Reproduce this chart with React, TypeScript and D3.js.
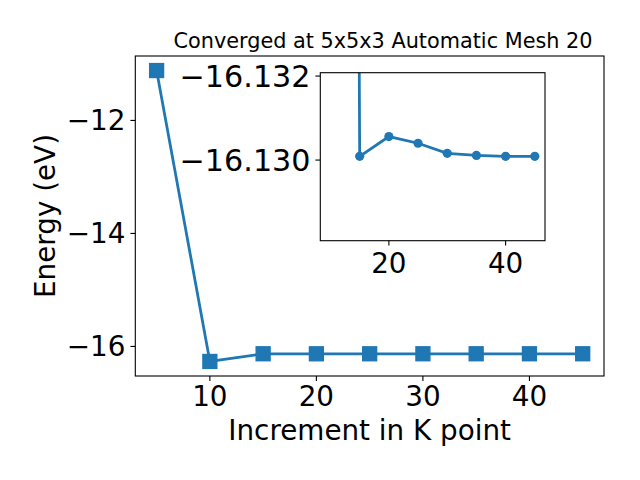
import React from "react";
import * as d3 from "d3";

const kpoints = [5, 10, 15, 20, 25, 30, 35, 40, 45];
const energies = [-11.117, -16.266, -16.13009, -16.13056, -16.1304, -16.13016, -16.13011, -16.13009, -16.13009];
const mainXTicks = [10, 20, 30, 40];
const mainYTicks = [-16, -14, -12];
const insetXTicks = [20, 40];
const insetYTicks = [-16.132, -16.13];
const insetYLim = [-16.12808, -16.13208];
const titleText = "Converged at 5x5x3 Automatic Mesh 20";
const xLabel = "Increment in K point";
const yLabel = "Energy (eV)";

const COLOR = "#1f77b4";
const FONT = "DejaVu Sans";
const fmtMinus = (s: string) => s.replace("-", "\u2212");

export default function App() {
  const main = { l: 135.3, r: 604, t: 56, b: 376 };
  const inset = { l: 320.3, r: 545, t: 72.7, b: 240.7 };

  const xMin = d3.min(kpoints)!, xMax = d3.max(kpoints)!;
  const xm = (xMax - xMin) * 0.05;
  const yMin = d3.min(energies)!, yMax = d3.max(energies)!;
  const ym = (yMax - yMin) * 0.05;
  const x = d3.scaleLinear().domain([xMin - xm, xMax + xm]).range([main.l, main.r]);
  const y = d3.scaleLinear().domain([yMin - ym, yMax + ym]).range([main.b, main.t]);

  const ik = kpoints.slice(1);
  const ie = energies.slice(1);
  const ixMin = d3.min(ik)!, ixMax = d3.max(ik)!;
  const ixm = (ixMax - ixMin) * 0.05;
  const ix = d3.scaleLinear().domain([ixMin - ixm, ixMax + ixm]).range([inset.l, inset.r]);
  const iy = d3.scaleLinear().domain(insetYLim).range([inset.b, inset.t]);

  const line = d3.line<number>().x((_, i) => x(kpoints[i])).y((d) => y(d));
  const iline = d3.line<number>().x((_, i) => ix(ik[i])).y((d) => iy(d));
  const ms = 13.9;
  const tl = 4.9;
  const lw = 2.78;

  return (
    <svg width={640} height={480} style={{ position: "absolute", left: 0, top: 0, background: "#fff" }} fontFamily={FONT}>
      <rect x={0} y={0} width={640} height={480} fill="#fff" />
      <defs>
        <clipPath id="insetclip">
          <rect x={inset.l} y={inset.t} width={inset.r - inset.l} height={inset.b - inset.t} />
        </clipPath>
      </defs>
      <g>
        <path d={line(energies)!} fill="none" stroke={COLOR} strokeWidth={lw} />
        {energies.map((e, i) => (
          <rect key={i} x={x(kpoints[i]) - ms / 2} y={y(e) - ms / 2} width={ms} height={ms} fill={COLOR} stroke={COLOR} strokeWidth={1.39} />
        ))}
        <rect x={main.l} y={main.t} width={main.r - main.l} height={main.b - main.t} fill="none" stroke="#000" strokeWidth={1.1} />
        {mainXTicks.map((t) => (
          <g key={t}>
            <line x1={x(t)} x2={x(t)} y1={main.b} y2={main.b + tl} stroke="#000" strokeWidth={1.1} />
            <text x={x(t)} y={406} fontSize={27.8} textAnchor="middle">{t}</text>
          </g>
        ))}
        {mainYTicks.map((t) => (
          <g key={t}>
            <line x1={main.l - tl} x2={main.l} y1={y(t)} y2={y(t)} stroke="#000" strokeWidth={1.1} />
            <text x={main.l - tl - 4.9} y={y(t)} dy="0.36em" fontSize={27.8} textAnchor="end">{fmtMinus(String(t))}</text>
          </g>
        ))}
        <text x={(main.l + main.r) / 2} y={440} fontSize={27.8} textAnchor="middle">{xLabel}</text>
        <text transform={`translate(55,${(main.t + main.b) / 2}) rotate(-90)`} fontSize={27.8} textAnchor="middle">{yLabel}</text>
        <text x={383} y={47.7} fontSize={20.8} textAnchor="middle">{titleText}</text>
      </g>
      <g>
        <rect x={inset.l} y={inset.t} width={inset.r - inset.l} height={inset.b - inset.t} fill="#fff" />
        <g clipPath="url(#insetclip)">
          <path d={iline(ie)!} fill="none" stroke={COLOR} strokeWidth={lw} />
          {ie.map((e, i) => (
            <circle key={i} cx={ix(ik[i])} cy={iy(e)} r={4.6} fill={COLOR} />
          ))}
        </g>
        <rect x={inset.l} y={inset.t} width={inset.r - inset.l} height={inset.b - inset.t} fill="none" stroke="#000" strokeWidth={1.1} />
        {insetXTicks.map((t) => (
          <g key={t}>
            <line x1={ix(t)} x2={ix(t)} y1={inset.b} y2={inset.b + tl} stroke="#000" strokeWidth={1.1} />
            <text x={ix(t)} y={272.5} fontSize={27.8} textAnchor="middle">{t}</text>
          </g>
        ))}
        {insetYTicks.map((t) => (
          <g key={t}>
            <line x1={inset.l - tl} x2={inset.l} y1={iy(t)} y2={iy(t)} stroke="#000" strokeWidth={1.1} />
            <text x={inset.l - tl - 4.9} y={iy(t)} dy="0.36em" fontSize={30.2} textAnchor="end">{fmtMinus(t.toFixed(3))}</text>
          </g>
        ))}
      </g>
    </svg>
  );
}
